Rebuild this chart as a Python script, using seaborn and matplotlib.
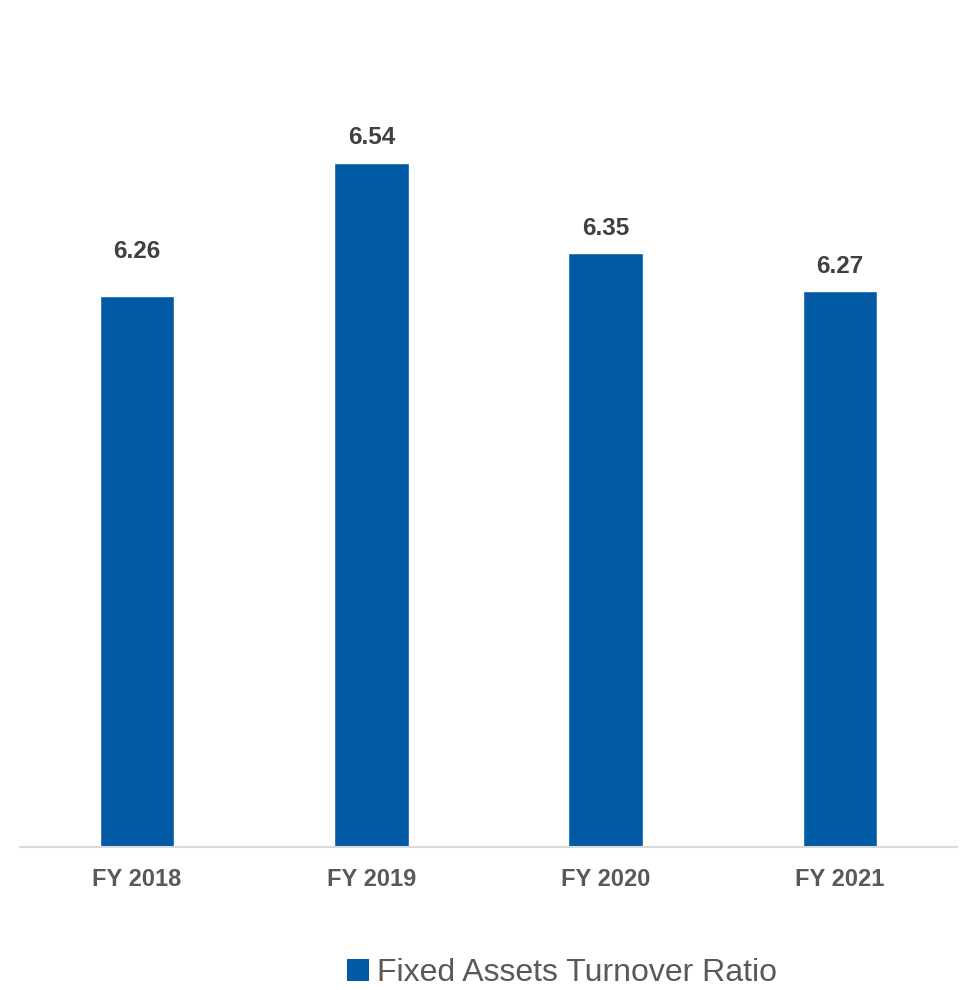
import numpy as np
import pandas as pd

import matplotlib
matplotlib.use('Agg')

from matplotlib import pyplot as plt
from matplotlib.patches import Patch
import seaborn as sns

years = ["FY 2018", "FY 2019", "FY 2020", "FY 2021"]
ratios = [6.26, 6.54, 6.35, 6.27]
series_name = "Fixed Assets Turnover Ratio"

bar_color = "#025AA5"

sns.set_style("white")
plt.rcParams['font.family'] = ['Liberation Sans', 'DejaVu Sans']

df = pd.DataFrame({"year": years, "ratio": ratios})

fig = plt.figure(figsize=(9.62, 9.9), dpi=100)
ax = fig.add_axes([20 / 962, 143 / 990, 937 / 962, (847 - 87) / 990])

sns.barplot(data=df, x="year", y="ratio", color=bar_color, width=0.317,
            saturation=1, ax=ax)

ax.set_ylim(5.1, 6.7)
ax.set_xlim(-0.5, 3.5)
ax.set_xlabel("")
ax.set_ylabel("")
ax.set_yticks([])
ax.tick_params(axis='x', length=0, pad=15, labelsize=17, labelcolor="#595959")
for lbl in ax.get_xticklabels():
    lbl.set_fontweight("bold")

for side in ["top", "right", "left"]:
    ax.spines[side].set_visible(False)
ax.spines["bottom"].set_color("#D9D9D9")
ax.spines["bottom"].set_linewidth(1.5)

# value labels (first one sits a bit higher in the original)
label_offsets = [45, 25, 25, 25]
for i, (v, off) in enumerate(zip(ratios, label_offsets)):
    ax.annotate(f"{v:.2f}", xy=(i, v), xytext=(0, off), textcoords="offset pixels",
                ha="center", va="center", fontsize=17.5, fontweight="bold",
                color="#404040")

handle = Patch(facecolor=bar_color, edgecolor="none")
fig.legend([handle], [series_name], loc="center",
           bbox_to_anchor=(562 / 962, 1 - 973 / 990), frameon=False,
           fontsize=23, handlelength=0.7, handleheight=0.7,
           handletextpad=0.25, labelcolor="#595959")

plt.savefig("out.png", dpi=100)
